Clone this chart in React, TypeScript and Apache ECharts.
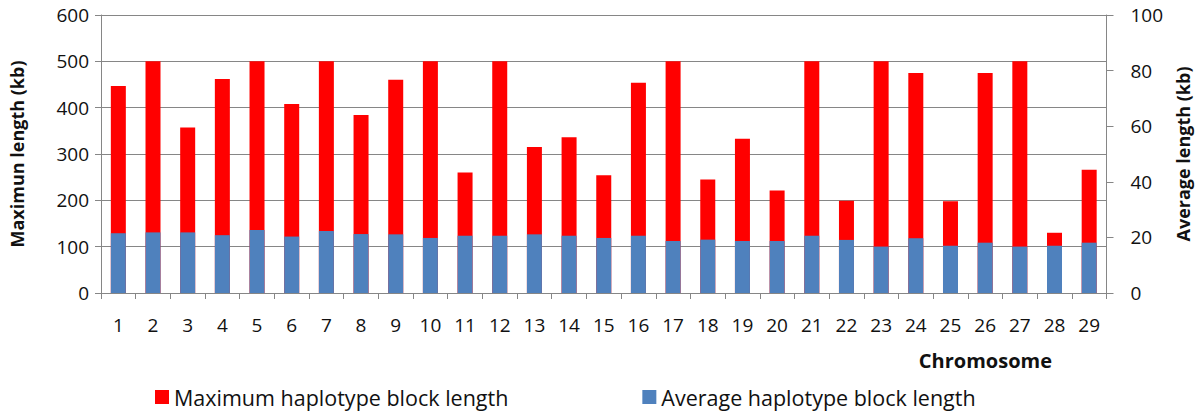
import React, { useEffect, useRef } from "react";
import * as echarts from "echarts";

const chromosomes = ["1","2","3","4","5","6","7","8","9","10","11","12","13","14","15","16","17","18","19","20","21","22","23","24","25","26","27","28","29"];
const maxLength = [447, 500, 357, 462, 500, 408, 500, 384, 460, 500, 260, 500, 315, 336, 254, 454, 500, 245, 333, 221, 500, 199, 500, 475, 198, 475, 500, 130, 266];
const avgLength = [21.5, 21.8, 21.8, 20.8, 22.7, 20.3, 22.3, 21.2, 21.1, 19.8, 20.6, 20.6, 21.1, 20.6, 19.8, 20.6, 18.7, 19.2, 18.7, 18.7, 20.6, 19.1, 16.7, 19.7, 17.0, 18.1, 16.7, 17.0, 18.1];
const leftTicks = { min: 0, max: 600, interval: 100 };
const rightTicks = { min: 0, max: 100, interval: 20 };
const seriesNames = ["Maximum haplotype block length", "Average haplotype block length"];

const FONT = "'Open Sans', sans-serif";
const GRAY = "#868686";

export default function App() {
  const ref = useRef<HTMLDivElement>(null);
  useEffect(() => {
    if (!ref.current) return;
    const chart = echarts.init(ref.current, null, { renderer: "svg" });
    chart.setOption({
      animation: false,
      textStyle: { fontFamily: FONT, color: "#111" },
      grid: { left: 97, right: 78, top: 15, bottom: 122, containLabel: false },
      legend: {
        data: seriesNames,
        left: 155,
        top: 386,
        padding: 0,
        icon: "rect",
        itemWidth: 14,
        itemHeight: 14,
        itemGap: 134,
        textStyle: { fontFamily: FONT, fontSize: 21.5, color: "#111" },
      },
      graphic: [
        {
          type: "text",
          x: 1052,
          y: 360,
          style: {
            text: "Chromosome",
            fontFamily: FONT,
            fontSize: 20,
            fontWeight: "bold",
            fill: "#111",
            align: "right",
            verticalAlign: "middle",
          },
        },
      ],
      xAxis: {
        type: "category",
        data: chromosomes,
        boundaryGap: true,
        axisLine: { show: true, lineStyle: { color: GRAY, width: 1 } },
        axisTick: { show: true, alignWithLabel: false, length: 6, lineStyle: { color: GRAY } },
        axisLabel: { fontFamily: FONT, fontSize: 19, color: "#111", margin: 22, interval: 0 },
      },
      yAxis: [
        {
          type: "value",
          ...leftTicks,
          name: "Maximun length (kb)",
          nameLocation: "middle",
          nameRotate: 90,
          nameGap: 75,
          nameTextStyle: { fontFamily: FONT, fontSize: 18, fontWeight: "bold", color: "#111" },
          axisLine: { show: true, lineStyle: { color: GRAY } },
          axisTick: { show: true, length: 6, lineStyle: { color: GRAY } },
          axisLabel: { fontFamily: FONT, fontSize: 19, color: "#111", margin: 12 },
          splitLine: { show: true, lineStyle: { color: GRAY, width: 1 } },
        },
        {
          type: "value",
          ...rightTicks,
          position: "right",
          name: "Average length (kb)",
          nameLocation: "middle",
          nameRotate: 90,
          nameGap: 57,
          nameTextStyle: { fontFamily: FONT, fontSize: 18, fontWeight: "bold", color: "#111" },
          axisLine: { show: true, lineStyle: { color: GRAY } },
          axisTick: { show: true, length: 7, lineStyle: { color: GRAY } },
          axisLabel: { fontFamily: FONT, fontSize: 19, color: "#111", margin: 24 },
          splitLine: { show: false },
        },
      ],
      series: [
        {
          name: seriesNames[0],
          type: "bar",
          yAxisIndex: 0,
          data: maxLength,
          barWidth: 15,
          barGap: "-100%",
          itemStyle: { color: "#FF0000" },
        },
        {
          name: seriesNames[1],
          type: "bar",
          yAxisIndex: 1,
          data: avgLength,
          barWidth: 15,
          barGap: "-100%",
          itemStyle: { color: "#4F81BD" },
        },
      ],
    });
    return () => chart.dispose();
  }, []);
  return (
    <div
      ref={ref}
      style={{ position: "absolute", left: 0, top: 0, width: 1200, height: 415, background: "#fff" }}
    />
  );
}
